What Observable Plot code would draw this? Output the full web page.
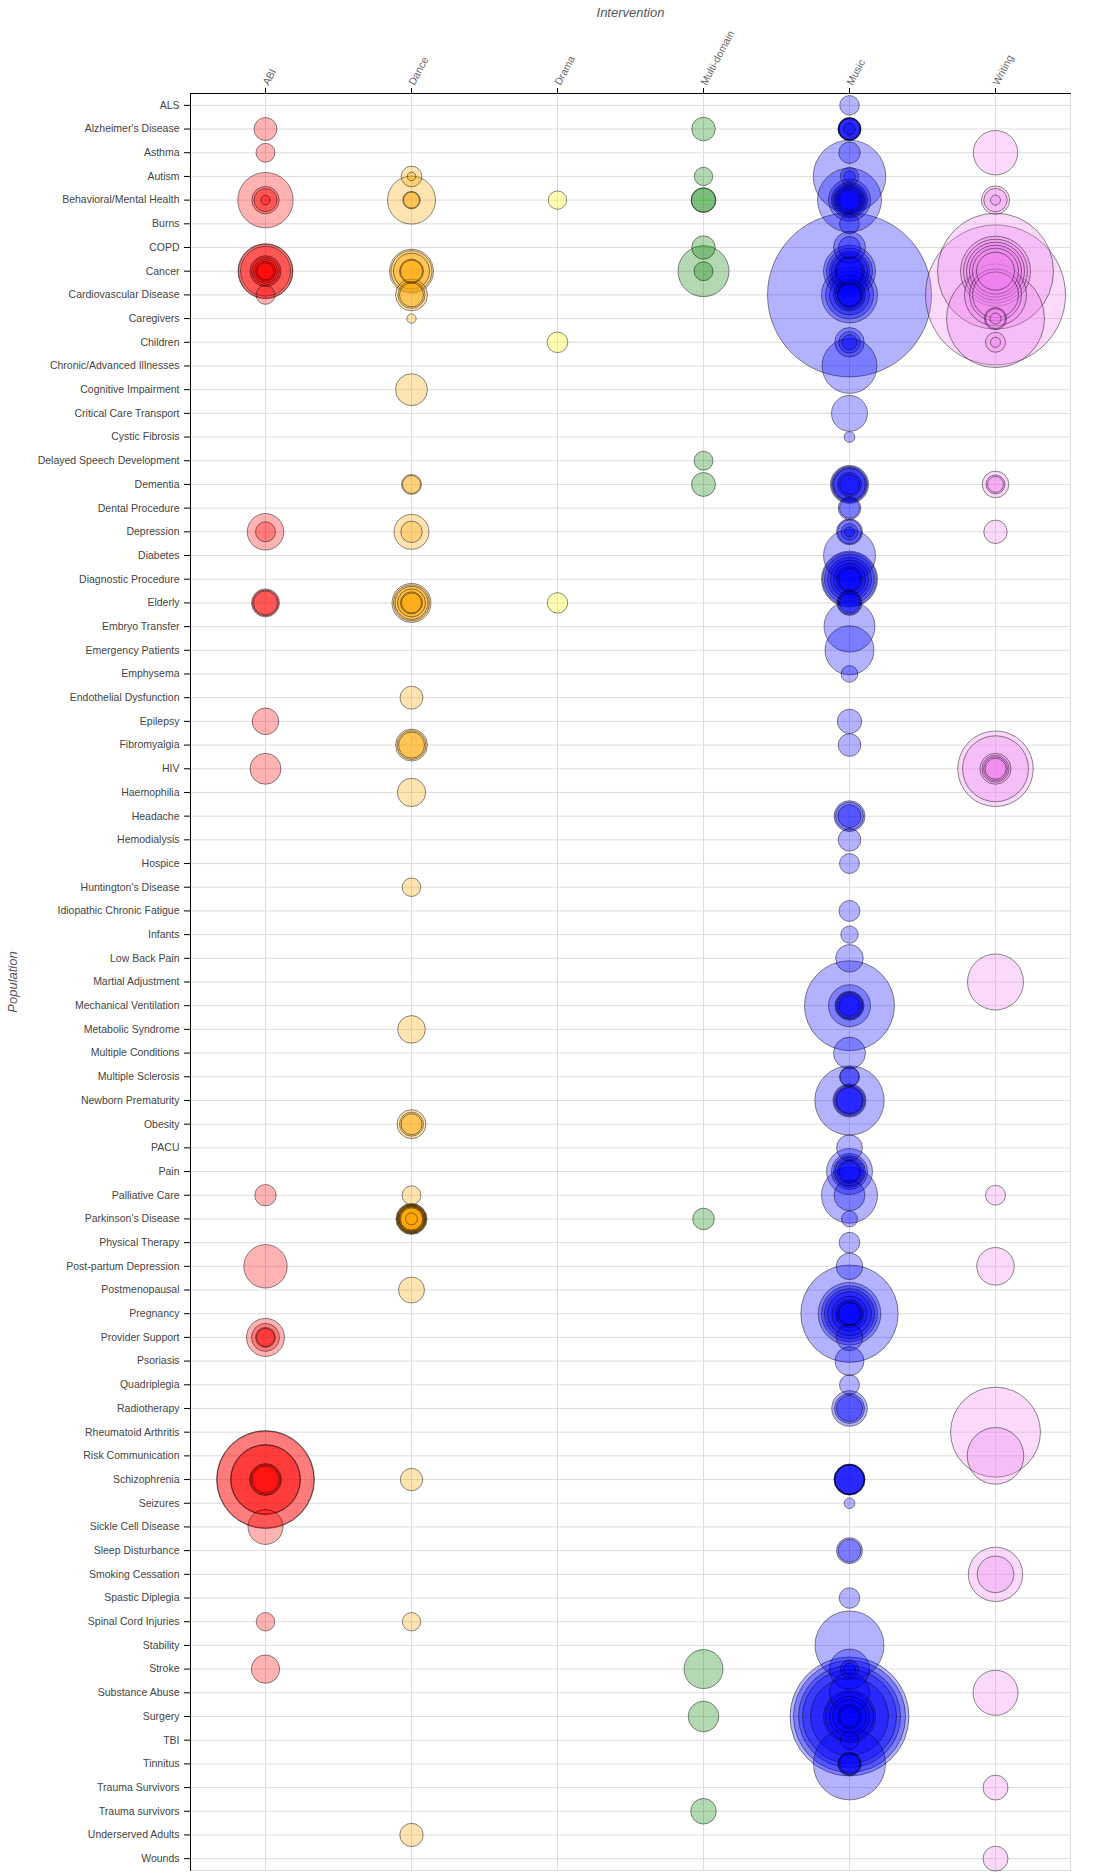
<!DOCTYPE html>
<html><head><meta charset="utf-8">
<script src="https://cdn.jsdelivr.net/npm/d3@7"></script>
<script src="https://cdn.jsdelivr.net/npm/@observablehq/plot@0.6"></script>
<style>
body{margin:0;background:#fff;}
#chart svg{display:block;}
g[aria-label="x-axis label"] text, g[aria-label="y-axis label"] text{font-style:italic;font-size:13px;fill:#555;}
</style></head><body><div id="chart"></div>
<script>
const interventions = ["ABI","Dance","Drama","Multi-domain","Music","Writing"];
const interventionColors = ["red","orange","yellow","green","blue","violet"];
const populations = ["ALS","Alzheimer's Disease","Asthma","Autism","Behavioral/Mental Health","Burns","COPD","Cancer","Cardiovascular Disease","Caregivers","Children","Chronic/Advanced Illnesses","Cognitive Impairment","Critical Care Transport","Cystic Fibrosis","Delayed Speech Development","Dementia","Dental Procedure","Depression","Diabetes","Diagnostic Procedure","Elderly","Embryo Transfer","Emergency Patients","Emphysema","Endothelial Dysfunction","Epilepsy","Fibromyalgia","HIV","Haemophilia","Headache","Hemodialysis","Hospice","Huntington's Disease","Idiopathic Chronic Fatigue","Infants","Low Back Pain","Martial Adjustment","Mechanical Ventilation","Metabolic Syndrome","Multiple Conditions","Multiple Sclerosis","Newborn Prematurity","Obesity","PACU","Pain","Palliative Care","Parkinson's Disease","Physical Therapy","Post-partum Depression","Postmenopausal","Pregnancy","Provider Support","Psoriasis","Quadriplegia","Radiotherapy","Rheumatoid Arthritis","Risk Communication","Schizophrenia","Seizures","Sickle Cell Disease","Sleep Disturbance","Smoking Cessation","Spastic Diplegia","Spinal Cord Injuries","Stability","Stroke","Substance Abuse","Surgery","TBI","Tinnitus","Trauma Survivors","Trauma survivors","Underserved Adults","Wounds"];

// [population, sample size] per study
const abiStudies = [["Alzheimer's Disease",78],["Asthma",53],["Behavioral/Mental Health",454],["Behavioral/Mental Health",111],["Behavioral/Mental Health",78],["Behavioral/Mental Health",13],["Cancer",447],["Cancer",431],["Cancer",370],["Cancer",142],["Cancer",116],["Cancer",85],["Cancer",59],["Cancer",43],["Cardiovascular Disease",53],["Depression",198],["Depression",59],["Elderly",116],["Elderly",100],["Elderly",85],["Epilepsy",105],["HIV",142],["Palliative Care",68],["Post-partum Depression",279],["Provider Support",214],["Provider Support",116],["Provider Support",59],["Provider Support",48],["Schizophrenia",1421],["Schizophrenia",1392],["Schizophrenia",725],["Schizophrenia",704],["Schizophrenia",151],["Schizophrenia",133],["Schizophrenia",108],["Sickle Cell Disease",181],["Spinal Cord Injuries",51],["Stroke",119]];
const danceStudies = [["Autism",63],["Autism",11],["Behavioral/Mental Health",341],["Behavioral/Mental Health",45],["Behavioral/Mental Health",38],["Cancer",286],["Cancer",249],["Cancer",192],["Cancer",85],["Cancer",72],["Cardiovascular Disease",151],["Cardiovascular Disease",108],["Cardiovascular Disease",85],["Caregivers",13],["Cognitive Impairment",151],["Dementia",59],["Dementia",48],["Depression",181],["Depression",68],["Elderly",225],["Elderly",192],["Elderly",161],["Elderly",116],["Elderly",72],["Elderly",59],["Endothelial Dysfunction",78],["Fibromyalgia",151],["Fibromyalgia",124],["Fibromyalgia",100],["Haemophilia",119],["Huntington's Disease",51],["Metabolic Syndrome",113],["Obesity",124],["Obesity",85],["Obesity",65],["Palliative Care",53],["Parkinson's Disease",142],["Parkinson's Disease",133],["Parkinson's Disease",124],["Parkinson's Disease",116],["Parkinson's Disease",108],["Parkinson's Disease",100],["Parkinson's Disease",92],["Parkinson's Disease",85],["Parkinson's Disease",72],["Parkinson's Disease",21],["Postmenopausal",100],["Schizophrenia",74],["Spinal Cord Injuries",50],["Underserved Adults",81]];
const dramaStudies = [["Behavioral/Mental Health",50],["Children",63],["Elderly",62]];
const multiDomainStudies = [["Alzheimer's Disease",82],["Autism",50],["Behavioral/Mental Health",92],["Behavioral/Mental Health",85],["COPD",81],["Cancer",385],["Cancer",53],["Delayed Speech Development",53],["Dementia",85],["Parkinson's Disease",69],["Stroke",225],["Surgery",139],["Trauma survivors",97]];
const musicStudies = [["ALS",57],["Alzheimer's Disease",78],["Alzheimer's Disease",76],["Alzheimer's Disease",72],["Alzheimer's Disease",68],["Alzheimer's Disease",65],["Alzheimer's Disease",20],["Asthma",68],["Autism",780],["Autism",50],["Autism",20],["Behavioral/Mental Health",606],["Behavioral/Mental Health",261],["Behavioral/Mental Health",192],["Behavioral/Mental Health",161],["Behavioral/Mental Health",133],["Behavioral/Mental Health",108],["Behavioral/Mental Health",85],["Behavioral/Mental Health",59],["Burns",59],["COPD",151],["COPD",72],["Cancer",400],["Cancer",313],["Cancer",237],["Cancer",192],["Cancer",133],["Cancer",105],["Cardiovascular Disease",3979],["Cardiovascular Disease",464],["Cardiovascular Disease",341],["Cardiovascular Disease",237],["Cardiovascular Disease",151],["Cardiovascular Disease",116],["Cardiovascular Disease",85],["Cardiovascular Disease",81],["Children",128],["Children",69],["Children",33],["Chronic/Advanced Illnesses",447],["Critical Care Transport",192],["Cystic Fibrosis",17],["Dementia",214],["Dementia",192],["Dementia",171],["Dementia",151],["Dementia",85],["Dementia",59],["Dental Procedure",76],["Dental Procedure",59],["Depression",100],["Depression",85],["Depression",41],["Depression",15],["Diabetes",400],["Diagnostic Procedure",464],["Diagnostic Procedure",431],["Diagnostic Procedure",370],["Diagnostic Procedure",286],["Diagnostic Procedure",214],["Diagnostic Procedure",151],["Diagnostic Procedure",100],["Diagnostic Procedure",72],["Elderly",92],["Elderly",78],["Elderly",59],["Embryo Transfer",385],["Emergency Patients",355],["Emphysema",41],["Epilepsy",88],["Fibromyalgia",76],["Headache",142],["Headache",116],["Headache",78],["Hemodialysis",76],["Hospice",59],["Idiopathic Chronic Fatigue",65],["Infants",45],["Low Back Pain",113],["Mechanical Ventilation",1198],["Mechanical Ventilation",261],["Mechanical Ventilation",124],["Mechanical Ventilation",108],["Mechanical Ventilation",92],["Mechanical Ventilation",65],["Multiple Conditions",151],["Multiple Sclerosis",59],["Multiple Sclerosis",53],["Newborn Prematurity",712],["Newborn Prematurity",161],["Newborn Prematurity",142],["Newborn Prematurity",116],["Newborn Prematurity",100],["PACU",100],["Pain",313],["Pain",192],["Pain",151],["Pain",124],["Pain",85],["Pain",63],["Palliative Care",464],["Palliative Care",142],["Parkinson's Disease",38],["Physical Therapy",63],["Post-partum Depression",105],["Pregnancy",1403],["Pregnancy",580],["Pregnancy",464],["Pregnancy",370],["Pregnancy",286],["Pregnancy",181],["Pregnancy",116],["Pregnancy",85],["Pregnancy",72],["Provider Support",105],["Psoriasis",124],["Quadriplegia",59],["Radiotherapy",187],["Radiotherapy",133],["Radiotherapy",100],["Schizophrenia",142],["Schizophrenia",139],["Schizophrenia",133],["Schizophrenia",128],["Schizophrenia",124],["Seizures",17],["Sleep Disturbance",100],["Sleep Disturbance",78],["Spastic Diplegia",63],["Stability",704],["Stroke",237],["Stroke",48],["Stroke",21],["Substance Abuse",237],["Surgery",2095],["Surgery",1856],["Surgery",1539],["Surgery",1307],["Surgery",900],["Surgery",400],["Surgery",341],["Surgery",237],["Surgery",165],["Surgery",85],["Surgery",59],["TBI",50],["Tinnitus",767],["Tinnitus",81],["Tinnitus",72],["Tinnitus",59]];
const writingStudies = [["Asthma",292],["Behavioral/Mental Health",119],["Behavioral/Mental Health",81],["Behavioral/Mental Health",15],["Cancer",1991],["Cancer",725],["Cancer",606],["Cancer",498],["Cancer",400],["Cancer",313],["Cancer",214],["Cardiovascular Disease",2899],["Cardiovascular Disease",569],["Cardiovascular Disease",400],["Cardiovascular Disease",313],["Caregivers",1421],["Caregivers",72],["Caregivers",59],["Caregivers",18],["Children",59],["Children",15],["Dementia",105],["Dementia",53],["Dementia",38],["Depression",81],["HIV",845],["HIV",644],["HIV",142],["HIV",108],["HIV",85],["HIV",65],["Martial Adjustment",464],["Palliative Care",59],["Post-partum Depression",209],["Rheumatoid Arthritis",1198],["Risk Communication",474],["Smoking Cessation",438],["Smoking Cessation",198],["Substance Abuse",300],["Trauma Survivors",92],["Wounds",92]];

const studiesByIntervention = [abiStudies, danceStudies, dramaStudies, multiDomainStudies, musicStudies, writingStudies];
const data = studiesByIntervention.flatMap((list, i) =>
  list.map(([population, n]) => ({intervention: interventions[i], population, n})));

const chart = Plot.plot({
  width: 1100,
  height: 1875,
  marginTop: 93,
  marginLeft: 190,
  marginRight: 30,
  marginBottom: 5,
  style: {fontFamily: "'Liberation Sans', Arial, sans-serif", fontSize: "10.5px", background: "white", overflow: "visible"},
  x: {type: "point", domain: interventions, padding: 0.5, axis: null},
  y: {type: "point", domain: populations, padding: 0.5, axis: null},
  r: {type: "sqrt", domain: [0, 4000], range: [0, 82.2]},
  color: {domain: interventions, range: interventionColors},
  marks: [
    Plot.gridX({stroke: "#dddddd", strokeOpacity: 1}),
    Plot.gridY({stroke: "#dddddd", strokeOpacity: 1}),
    Plot.frame({stroke: "#dddddd"}),
    Plot.dot(data, {x: "intervention", y: "population", r: "n", fill: "intervention", fillOpacity: 0.3, stroke: "black", strokeOpacity: 0.45, strokeWidth: 1}),
    Plot.frame({anchor: "top", stroke: "black"}),
    Plot.frame({anchor: "left", stroke: "black"}),
    Plot.axisX({anchor: "top", tickRotate: -62, tickSize: 6, tickPadding: 3, stroke: "black", fill: "#666", label: "Intervention", labelAnchor: "center", labelOffset: 86}),
    Plot.axisY({anchor: "left", tickSize: 6, tickPadding: 5, stroke: "black", fill: "#444", label: "Population", labelAnchor: "center", labelOffset: 183})
  ]
});
document.getElementById("chart").append(chart);
</script>
</body></html>
